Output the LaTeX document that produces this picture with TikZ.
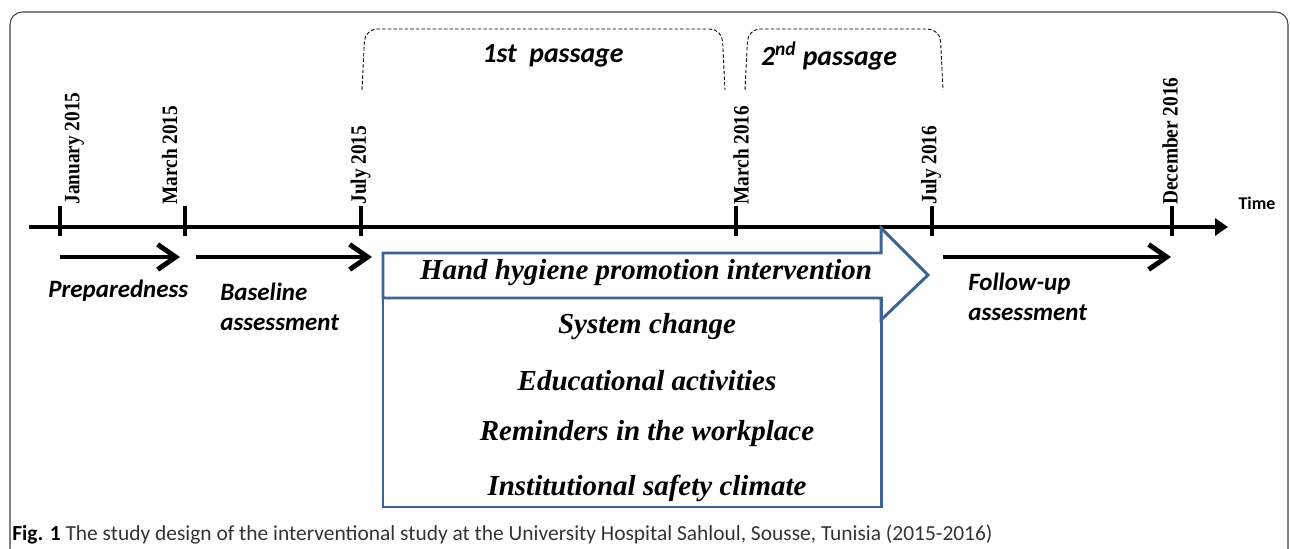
\documentclass[tikz,border=0pt]{standalone}
\usepackage{fontspec}
\setmainfont{Liberation Serif}
\newfontfamily\calib{Carlito}
\newfontfamily\datefont[FakeStretch=0.88]{Liberation Serif}
\usetikzlibrary{calc,arrows.meta}
\definecolor{boxblue}{RGB}{62,100,150}
\tikzset{
  phase/.style={line width=2.8pt,-{Straight Barb[length=0.36cm,width=0.5cm]}},
  datelbl/.style={rotate=90,anchor=west,inner sep=0pt,font=\datefont\fontsize{12.5}{14}\selectfont\bfseries},
  phaselbl/.style={anchor=west,align=left,inner sep=0pt,font=\calib\fontsize{14.2}{17}\selectfont\bfseries\itshape},
  passlbl/.style={font=\calib\fontsize{15.8}{18}\selectfont\bfseries\itshape},
  actlbl/.style={font=\fontsize{16.5}{20}\selectfont\bfseries\itshape},
  bracket/.style={dashed,dash pattern=on 2pt off 1.2pt,line width=0.5pt,rounded corners=7pt}
}
\begin{document}
\begin{tikzpicture}
\useasboundingbox (0,0) rectangle (25.8,10.96);
\draw[black!75,line width=0.6pt,rounded corners=7pt] (0.2,-0.3)--(0.2,10.72)--(25.76,10.72)--(25.76,-0.3);
% time axis
\draw[line width=1.9pt,-{Triangle[length=0.26cm,width=0.34cm]}] (0.58,6.42)coordinate (O)--(24.56,6.42)coordinate (E);
\node[font=\calib\fontsize{10.2}{12}\selectfont\bfseries] (time) at (25.14,6.9) {Time};
\foreach \x/\n/\t/\s in {1.2/jan15/January 2015/0.29,3.7/mar15/March 2015/-0.31,7.22/jul15/July 2015/-0.01,14.72/mar16/March 2016/0.1,18.64/jul16/July 2016/-0.02,23.44/dec16/December 2016/-0.04} {
\draw[line width=1.9pt] (\x,6.84)coordinate (\n)--++(0,-0.6);
\node[datelbl] (l\n) at ($(\n)+(\s,0.02)$) {\t};}
% phases along the axis
\draw[phase] ($(jan15)+(0,-1.02)$)--($(mar15)+(-0.1,-1.02)$);
\draw[phase] ($(mar15)+(0.22,-1.02)$)--($(jul15)+(0.22,-1.02)$);
\draw[phase] ($(jul16)+(0.22,-1.02)$)--($(dec16)+(-0.02,-1.02)$);
\node[phaselbl] (prep) at (0.96,5.14) {Preparedness};
\node[phaselbl] (base) at (4.4,4.82) {Baseline\\assessment};
\node[phaselbl] (follow) at (19.36,5.02) {Follow-up\\assessment};
% passages
\draw[bracket] (7.24,9.16)--(7.30,10.38)--(14.44,10.38)--(14.5,9.16);
\draw[bracket] (14.9,9.16)--(14.96,10.38)--(18.8,10.38)--(18.86,9.16);
\node[passlbl] (p1) at (11.06,9.84) {1st\ \ passage};
\node[passlbl] (p2) at (16.58,9.84) {2\textsuperscript{nd} passage};
% intervention block
\draw[boxblue,line width=1.7pt] (7.66,5.0)coordinate (B)--(7.66,5.90)--(17.62,5.90)--(17.62,6.4)--(18.56,5.46)--(17.62,4.56)--(17.62,5.0)--cycle;
\draw[boxblue,line width=1.7pt] (B) rectangle (17.62,0.82)coordinate (C);
\node[actlbl] (hh) at (12.92,5.5) {Hand hygiene promotion intervention};
\foreach \y/\n/\t in {4.42/sys/System change,3.34/edu/Educational activities,2.28/rem/Reminders in the workplace,1.2/inst/Institutional safety climate}
\node[actlbl] (\n) at (12.94,\y) {\t};
\node[anchor=west,inner sep=0pt,text=black!80,font=\calib\fontsize{12.2}{14}\selectfont] (cap) at (0.24,0.28) {\textbf{\color{black}Fig. 1} The study design of the interventional study at the University Hospital Sahloul, Sousse, Tunisia (2015-2016)};
\end{tikzpicture}
\end{document}
